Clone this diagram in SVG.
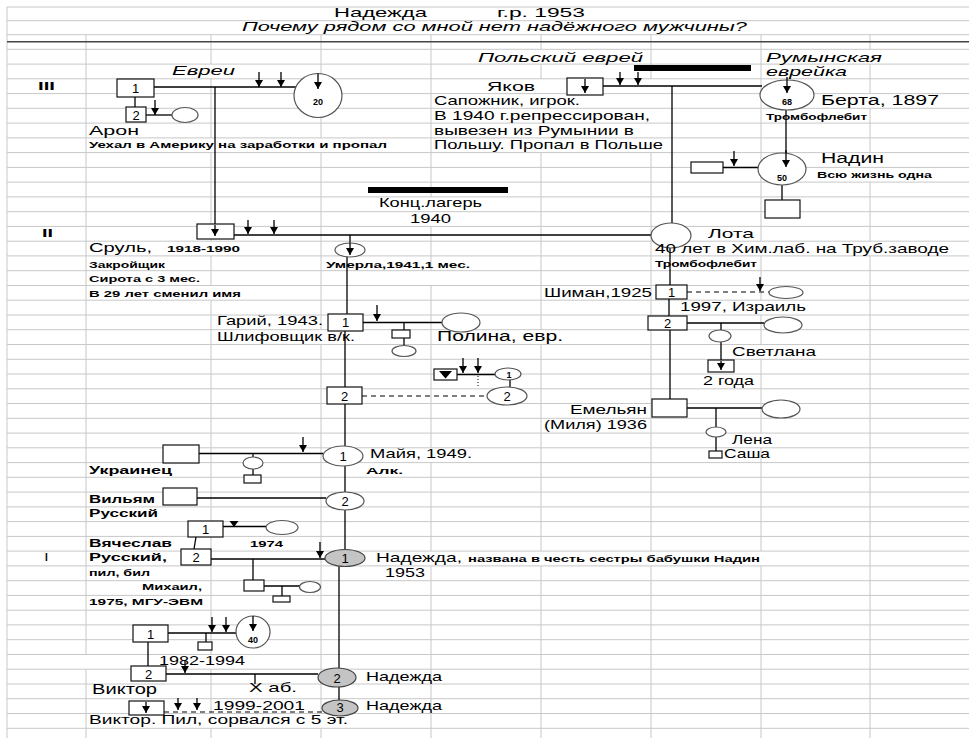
<svg xmlns="http://www.w3.org/2000/svg" width="969" height="738" viewBox="0 0 969 738">
<defs>
<marker id="ah" markerUnits="userSpaceOnUse" markerWidth="8" markerHeight="8" refX="7" refY="4" orient="auto" viewBox="0 0 8 8"><path d="M0,0 L7,4 L0,8 z" fill="#000"/></marker>
</defs>
<style>
.g{stroke:#c8c8c8;stroke-width:1;fill:none}
.ln{stroke:#000;stroke-width:1.3;fill:none}
.ds{stroke:#000;stroke-width:1.2;fill:none;stroke-dasharray:5,4}
.ar{stroke:#000;stroke-width:1.3;fill:none;marker-end:url(#ah)}
.sq{fill:#fff;stroke:#111;stroke-width:1.2}
.ci{fill:#fff;stroke:#555;stroke-width:1.2}
.gr{fill:#c4c4c4;stroke:#444;stroke-width:1.2}
.bar{fill:#000}
text{font-family:"Liberation Sans",Arial,sans-serif;fill:#000}
.t{font-size:13px}
.b{font-size:14px}
.s{font-size:9.5px;font-weight:bold}
.s2{font-size:10px;font-weight:bold}
.it{font-size:13px;font-style:italic}
.n{font-size:9px;font-weight:bold;text-anchor:middle}
.q{font-size:13px;text-anchor:middle}
.gen{font-size:10px;font-weight:bold}
</style>
<rect x="0" y="0" width="969" height="738" fill="#fff"/>
<g id="grid">
<path class="g" d="M7,7H969M7,20.7H969M7,34.7H969M7,49.3H969M7,64.1H969M7,78.8H969M7,93.6H969M7,108.3H969M7,123.1H969M7,137.9H969M7,152.6H969M7,167.4H969M7,182.1H969M7,196.9H969M7,211.7H969M7,226.4H969M7,241.2H969M7,255.9H969M7,270.7H969M7,285.5H969M7,300.2H969M7,315H969M7,329.7H969M7,344.5H969M7,359.3H969M7,374H969M7,388.8H969M7,403.5H969M7,418.3H969M7,433.1H969M7,447.8H969M7,462.6H969M7,477.3H969M7,492.1H969M7,506.9H969M7,521.6H969M7,536.4H969M7,551.1H969M7,565.9H969M7,580.7H969M7,595.4H969M7,610.2H969M7,624.9H969M7,639.7H969M7,654.5H969M7,669.2H969M7,684H969M7,698.7H969M7,713.5H969M7,728.3H969"/>
<path class="g" d="M7,7V738M86,34.7V654.5M86,669.2V738M211,34.7V64.1M211,78.8V137.9M211,152.6V241.2M211,255.9V285.5M211,300.2V654.5M211,669.2V713.5M211,728.3V738M321,34.7V137.9M321,152.6V329.7M321,344.5V713.5M321,728.3V738M431,34.7V196.9M431,226.4V270.7M431,285.5V447.8M431,462.6V551.1M431,565.9V738M541,34.7V49.3M541,64.1V78.8M541,152.6V329.7M541,344.5V551.1M541,565.9V738M651,34.7V78.8M651,152.6V551.1M651,565.9V738M761,34.7V241.2M761,255.9V300.2M761,315V344.5M761,359.3V433.1M761,447.8V551.1M761,565.9V738M870,34.7V49.3M870,64.1V93.6M870,108.3V152.6M870,182.1V241.2M870,255.9V738"/>
<line x1="7" y1="41.7" x2="969" y2="41.7" stroke="#444" stroke-width="1.5"/>
</g>
<g id="titles">
<text class="t" x="334" y="17" textLength="93" lengthAdjust="spacingAndGlyphs">Надежда</text>
<text class="t" x="497" y="17" textLength="88" lengthAdjust="spacingAndGlyphs">г.р. 1953</text>
<text class="it" x="242" y="31" textLength="505" lengthAdjust="spacingAndGlyphs">Почему рядом со мной нет надёжного мужчины?</text>
<text class="gen" x="38" y="90" textLength="17" lengthAdjust="spacingAndGlyphs">III</text>
<text class="gen" x="42" y="237" textLength="11" lengthAdjust="spacingAndGlyphs">II</text>
<text class="gen" x="45" y="561">I</text>
<text class="it" x="172" y="75" textLength="63" lengthAdjust="spacingAndGlyphs">Евреи</text>
<text class="it" x="478" y="62" textLength="165" lengthAdjust="spacingAndGlyphs">Польский еврей</text>
<text class="it" x="766" y="62" textLength="116" lengthAdjust="spacingAndGlyphs">Румынская</text>
<text class="it" x="766" y="76" textLength="81" lengthAdjust="spacingAndGlyphs">еврейка</text>
<rect class="bar" x="634" y="65" width="117" height="6"/>
<rect class="bar" x="368" y="187" width="140" height="6"/>
<text class="t" x="379" y="207" textLength="103" lengthAdjust="spacingAndGlyphs">Конц.лагерь</text>
<text class="t" x="410" y="223" textLength="41" lengthAdjust="spacingAndGlyphs">1940</text>
</g>
<g id="connectors">
<line class="ln" x1="154" y1="87" x2="296" y2="87"/>
<line class="ar" x1="215" y1="87" x2="215" y2="236"/>
<line class="ar" x1="259" y1="72" x2="259" y2="87"/>
<line class="ar" x1="281" y1="72" x2="281" y2="87"/>
<line class="ln" x1="135" y1="97" x2="135" y2="107"/>
<line class="ln" x1="146" y1="115" x2="172" y2="115"/>
<line class="ar" x1="155" y1="100" x2="155" y2="115"/>
<line class="ln" x1="603" y1="86" x2="762" y2="86"/>
<line class="ar" x1="620" y1="72" x2="620" y2="85"/>
<line class="ar" x1="638" y1="72" x2="638" y2="85"/>
<line class="ln" x1="672" y1="86" x2="672" y2="223"/>
<line class="ar" x1="786" y1="108" x2="786" y2="167"/>
<line class="ln" x1="723" y1="167.5" x2="758" y2="167.5"/>
<line class="ar" x1="734" y1="151" x2="734" y2="166"/>
<line class="ln" x1="782" y1="185" x2="782" y2="200"/>
<line class="ln" x1="234" y1="235" x2="651" y2="235"/>
<line class="ar" x1="248" y1="220" x2="248" y2="234"/>
<line class="ar" x1="274" y1="220" x2="274" y2="234"/>
<line class="ar" x1="350" y1="235" x2="350" y2="255"/>
<line class="ln" x1="347" y1="257" x2="347" y2="314"/>
<line class="ln" x1="345" y1="331" x2="345" y2="387"/>
<line class="ln" x1="345" y1="404" x2="345" y2="446"/>
<line class="ln" x1="345" y1="466" x2="345" y2="492"/>
<line class="ln" x1="345" y1="510" x2="345" y2="550"/>
<line class="ln" x1="339" y1="566.5" x2="339" y2="668"/>
<line class="ln" x1="339" y1="687" x2="339" y2="700"/>
<line class="ln" x1="363" y1="322.5" x2="442" y2="322.5"/>
<line class="ar" x1="377" y1="305" x2="377" y2="321"/>
<line class="ln" x1="404" y1="322.5" x2="404" y2="330"/>
<line class="ln" x1="404" y1="338" x2="404" y2="345.5"/>
<line class="ds" x1="362" y1="396" x2="487" y2="396"/>
<line class="ln" x1="457" y1="374.5" x2="495" y2="374.5"/>
<line class="ar" x1="463" y1="358" x2="463" y2="373"/>
<line class="ar" x1="478" y1="358" x2="478" y2="373"/>
<line x1="478" y1="376" x2="478" y2="387" stroke="#000" stroke-width="1" stroke-dasharray="1,2"/>
<line class="ln" x1="510" y1="380" x2="510" y2="387"/>
<line class="ln" x1="670" y1="248" x2="670" y2="285"/>
<line class="ds" x1="687" y1="292" x2="769" y2="292"/>
<line class="ar" x1="760" y1="277" x2="760" y2="291"/>
<line class="ln" x1="669" y1="299" x2="669" y2="316"/>
<line class="ln" x1="687" y1="323" x2="764" y2="323"/>
<line class="ln" x1="721" y1="323" x2="721" y2="330"/>
<line class="ar" x1="721" y1="342" x2="721" y2="370"/>
<line class="ln" x1="670" y1="330" x2="670" y2="399"/>
<line class="ln" x1="687" y1="408" x2="762" y2="408"/>
<line class="ln" x1="716" y1="408" x2="716" y2="427"/>
<line class="ln" x1="716" y1="437" x2="716" y2="451"/>
<line class="ln" x1="199" y1="453.5" x2="323" y2="453.5"/>
<line class="ar" x1="303" y1="437" x2="303" y2="452"/>
<line class="ln" x1="253" y1="453.5" x2="253" y2="457"/>
<line class="ln" x1="253" y1="469" x2="253" y2="475"/>
<line class="ln" x1="197" y1="498" x2="326" y2="498"/>
<line class="ln" x1="223" y1="526.5" x2="266" y2="526.5"/>
<line class="ln" x1="196" y1="537" x2="194" y2="549"/>
<line class="ln" x1="211" y1="559" x2="325" y2="559"/>
<line class="ar" x1="320" y1="542" x2="320" y2="558"/>
<line class="ln" x1="253" y1="559" x2="253" y2="580"/>
<line class="ln" x1="264" y1="586" x2="300" y2="586"/>
<line class="ln" x1="282" y1="586" x2="282" y2="596"/>
<line class="ln" x1="168" y1="633" x2="236" y2="633"/>
<line class="ar" x1="212" y1="617" x2="212" y2="632"/>
<line class="ar" x1="226" y1="617" x2="226" y2="632"/>
<line class="ln" x1="206" y1="633" x2="206" y2="642"/>
<line class="ln" x1="148" y1="642" x2="148" y2="666"/>
<line class="ln" x1="166" y1="674" x2="318" y2="674"/>
<line class="ar" x1="185" y1="661" x2="185" y2="673"/>
<line class="ln" x1="255" y1="674" x2="255" y2="684"/>
<line class="ds" x1="164" y1="712" x2="322" y2="712"/>
<line class="ar" x1="178" y1="698" x2="178" y2="710"/>
<line class="ar" x1="197" y1="698" x2="197" y2="710"/>
</g>
<g id="n_evrei_husband"><rect class="sq" x="117" y="79" width="37" height="18"/><text class="q" x="135.5" y="92.5">1</text></g>
<g id="n_evrei_wife"><ellipse class="ci" cx="318" cy="95.5" rx="24" ry="22"/><line class="ar" x1="318" y1="73.5" x2="318" y2="89"/><text class="n" x="318" y="105">20</text></g>
<g id="n_aron"><rect class="sq" x="126" y="107" width="20" height="15"/><text class="q" x="136" y="119.5">2</text>
<text class="t" x="89" y="135" textLength="50" lengthAdjust="spacingAndGlyphs">Арон</text>
<text class="s" x="89" y="148" textLength="298" lengthAdjust="spacingAndGlyphs">Уехал в Америку на заработки и пропал</text></g>
<g id="n_aron_wife"><ellipse class="ci" cx="185" cy="115" rx="13" ry="7.5"/></g>
<g id="n_yakov"><rect class="sq" x="567" y="78" width="36" height="17"/><line class="ar" x1="585" y1="79" x2="585" y2="93"/>
<text class="t" x="487" y="91" textLength="48" lengthAdjust="spacingAndGlyphs">Яков</text>
<text class="t" x="434" y="105" textLength="146" lengthAdjust="spacingAndGlyphs">Сапожник, игрок.</text>
<text class="t" x="434" y="120" textLength="216" lengthAdjust="spacingAndGlyphs">В 1940 г.репрессирован,</text>
<text class="t" x="434" y="135" textLength="200" lengthAdjust="spacingAndGlyphs">вывезен из Румынии в</text>
<text class="t" x="434" y="149" textLength="229" lengthAdjust="spacingAndGlyphs">Польшу. Пропал в Польше</text></g>
<g id="n_berta"><ellipse class="ci" cx="787" cy="95" rx="27" ry="15"/><line class="ar" x1="787" y1="77" x2="787" y2="93"/><text class="n" x="787" y="104.5">68</text>
<text class="b" x="821" y="105" textLength="118" lengthAdjust="spacingAndGlyphs">Берта, 1897</text>
<text class="s" x="766" y="120" textLength="101" lengthAdjust="spacingAndGlyphs">Тромбофлебит</text></g>
<g id="n_nadin"><ellipse class="ci" cx="782" cy="169" rx="24" ry="16"/><line class="ar" x1="786" y1="150" x2="786" y2="167"/><text class="n" x="782" y="181">50</text>
<text class="b" x="821" y="163" textLength="63" lengthAdjust="spacingAndGlyphs">Надин</text>
<text class="s" x="817" y="178" textLength="115" lengthAdjust="spacingAndGlyphs">Всю жизнь одна</text></g>
<g id="n_nadin_partner"><rect class="sq" x="691" y="162" width="32" height="11"/></g>
<g id="n_nadin_child"><rect class="sq" x="765" y="200" width="35" height="18"/></g>
<g id="n_srul"><rect class="sq" x="197" y="224" width="37" height="15"/><line class="ar" x1="215" y1="225" x2="215" y2="236"/>
<text class="t" x="89" y="252" textLength="63" lengthAdjust="spacingAndGlyphs">Сруль,</text><text class="s" x="167" y="252" textLength="73" lengthAdjust="spacingAndGlyphs">1918-1990</text>
<text class="s" x="89" y="268" textLength="76" lengthAdjust="spacingAndGlyphs">Закройщик</text>
<text class="s" x="89" y="282" textLength="111" lengthAdjust="spacingAndGlyphs">Сирота с 3 мес.</text>
<text class="s" x="89" y="297" textLength="152" lengthAdjust="spacingAndGlyphs">В 29 лет сменил имя</text></g>
<g id="n_lota"><ellipse class="ci" cx="671" cy="235.5" rx="20" ry="12.5"/>
<text class="t" x="708" y="238" textLength="46" lengthAdjust="spacingAndGlyphs">Лота</text>
<text class="t" x="655" y="253" textLength="294" lengthAdjust="spacingAndGlyphs">40 лет в Хим.лаб. на Труб.заводе</text>
<text class="s" x="655" y="267" textLength="102" lengthAdjust="spacingAndGlyphs">Тромбофлебит</text></g>
<g id="n_daughter1941"><ellipse class="ci" cx="350" cy="250" rx="15" ry="7"/><line class="ar" x1="350" y1="243" x2="350" y2="255"/>
<text class="s" x="326" y="268" textLength="144" lengthAdjust="spacingAndGlyphs">Умерла,1941,1 мес.</text></g>
<g id="n_gariy1"><rect class="sq" x="328" y="314" width="35" height="17"/><text class="q" x="345.5" y="327">1</text>
<text class="t" x="217" y="325" textLength="106" lengthAdjust="spacingAndGlyphs">Гарий, 1943.</text>
<text class="t" x="217" y="341" textLength="138" lengthAdjust="spacingAndGlyphs">Шлифовщик в/к.</text></g>
<g id="n_polina"><ellipse class="ci" cx="461" cy="322.5" rx="19" ry="9.5"/>
<text class="b" x="437" y="341" textLength="126" lengthAdjust="spacingAndGlyphs">Полина, евр.</text></g>
<g id="n_gariy_child1"><rect class="sq" x="392" y="330" width="18" height="8"/></g>
<g id="n_gariy_grandchild"><ellipse class="ci" cx="404" cy="351" rx="12" ry="5.5"/></g>
<g id="n_gariy2"><rect class="sq" x="327" y="387" width="35" height="17"/><text class="q" x="344.5" y="400.5">2</text></g>
<g id="n_wife2"><ellipse class="ci" cx="507" cy="396" rx="20" ry="9"/><text class="q" x="507" y="401">2</text></g>
<g id="n_wife2_prev"><rect class="sq" x="434" y="369" width="23" height="11"/><polygon points="439,371 452,371 445.5,378.5" fill="#000"/></g>
<g id="n_wife2_first"><ellipse class="ci" cx="508" cy="374" rx="13" ry="6"/><text class="n" x="509" y="378">1</text></g>
<g id="n_shiman1"><rect class="sq" x="656" y="285" width="31" height="14"/><text class="q" x="671.5" y="296.5">1</text>
<text class="t" x="544" y="297" textLength="108" lengthAdjust="spacingAndGlyphs">Шиман,1925</text></g>
<g id="n_shiman_w1"><ellipse class="ci" cx="786" cy="292.5" rx="17" ry="6"/>
<text class="t" x="680" y="311" textLength="126" lengthAdjust="spacingAndGlyphs">1997, Израиль</text></g>
<g id="n_shiman2"><rect class="sq" x="648" y="316" width="39" height="14"/><text class="q" x="667.5" y="327.5">2</text></g>
<g id="n_shiman_w2"><ellipse class="ci" cx="783" cy="325" rx="19" ry="8"/></g>
<g id="n_svetlana_c"><ellipse class="ci" cx="720" cy="336" rx="11" ry="6"/>
<text class="t" x="732" y="356" textLength="84" lengthAdjust="spacingAndGlyphs">Светлана</text></g>
<g id="n_svetlana_s"><rect class="sq" x="708" y="360" width="26" height="12"/><line class="ar" x1="721" y1="361" x2="721" y2="370"/>
<text class="t" x="703" y="385" textLength="51" lengthAdjust="spacingAndGlyphs">2 года</text></g>
<g id="n_emelyan"><rect class="sq" x="652" y="399" width="35" height="18"/>
<text class="t" x="570" y="414" textLength="77" lengthAdjust="spacingAndGlyphs">Емельян</text>
<text class="t" x="544" y="429" textLength="103" lengthAdjust="spacingAndGlyphs">(Миля) 1936</text></g>
<g id="n_emelyan_w"><ellipse class="ci" cx="781" cy="409" rx="19" ry="9"/></g>
<g id="n_lena"><ellipse class="ci" cx="716" cy="432" rx="10" ry="5"/><text class="t" x="732" y="444" textLength="40" lengthAdjust="spacingAndGlyphs">Лена</text></g>
<g id="n_sasha"><rect class="sq" x="709" y="451" width="13" height="7"/><text class="t" x="724" y="458" textLength="46" lengthAdjust="spacingAndGlyphs">Саша</text></g>
<g id="n_ukrainets"><rect class="sq" x="163" y="445" width="36" height="18"/><text class="s2" x="89" y="474" textLength="83" lengthAdjust="spacingAndGlyphs">Украинец</text></g>
<g id="n_ukr_child_c"><ellipse class="ci" cx="253" cy="463" rx="10" ry="6"/></g>
<g id="n_ukr_child_s"><rect class="sq" x="244" y="475" width="17" height="8"/></g>
<g id="n_maya1"><ellipse class="ci" cx="343" cy="456" rx="20" ry="10"/><text class="q" x="343" y="461">1</text>
<text class="t" x="370" y="458" textLength="102" lengthAdjust="spacingAndGlyphs">Майя, 1949.</text>
<text class="s" x="366" y="474" textLength="37" lengthAdjust="spacingAndGlyphs">Алк.</text></g>
<g id="n_vilyam"><rect class="sq" x="163" y="488" width="34" height="17"/>
<text class="s2" x="89" y="503" textLength="66" lengthAdjust="spacingAndGlyphs">Вильям</text>
<text class="s2" x="89" y="517" textLength="69" lengthAdjust="spacingAndGlyphs">Русский</text></g>
<g id="n_maya2"><ellipse class="ci" cx="345" cy="501" rx="19" ry="9"/><text class="q" x="345" y="506">2</text></g>
<g id="n_vyach1"><rect class="sq" x="188" y="521" width="35" height="16"/><text class="q" x="205.5" y="533.5">1</text><polygon points="229.5,521 238.5,521 234,527" fill="#000"/></g>
<g id="n_vyach_w1"><ellipse class="ci" cx="282" cy="527.5" rx="16" ry="7"/><text class="s" x="250" y="547" textLength="33" lengthAdjust="spacingAndGlyphs">1974</text></g>
<g id="n_vyach2"><rect class="sq" x="181" y="549" width="30" height="16"/><text class="q" x="196" y="562">2</text>
<text class="s2" x="89" y="547" textLength="83" lengthAdjust="spacingAndGlyphs">Вячеслав</text>
<text class="s2" x="89" y="561" textLength="78" lengthAdjust="spacingAndGlyphs">Русский,</text>
<text class="s" x="89" y="576" textLength="61" lengthAdjust="spacingAndGlyphs">пил, бил</text></g>
<g id="n_nadezhda1"><ellipse class="gr" cx="345" cy="558" rx="20" ry="8.5"/><text class="q" x="345" y="563">1</text>
<text class="t" x="376" y="562" textLength="86" lengthAdjust="spacingAndGlyphs">Надежда,</text>
<text class="s" x="468" y="562" textLength="292" lengthAdjust="spacingAndGlyphs">названа в честь сестры бабушки Надин</text>
<text class="t" x="385" y="577" textLength="40" lengthAdjust="spacingAndGlyphs">1953</text></g>
<g id="n_mikhail"><rect class="sq" x="244" y="580" width="20" height="11"/>
<text class="s" x="142" y="590" textLength="60" lengthAdjust="spacingAndGlyphs">Михаил,</text>
<text class="s" x="89" y="605" textLength="114" lengthAdjust="spacingAndGlyphs">1975, МГУ-ЭВМ</text></g>
<g id="n_mikhail_w"><ellipse class="ci" cx="310" cy="587" rx="10.5" ry="5.5"/></g>
<g id="n_mikhail_child"><rect class="sq" x="273" y="596" width="17" height="6"/></g>
<g id="n_viktor1"><rect class="sq" x="133" y="625" width="35" height="17"/><text class="q" x="150.5" y="638.5">1</text></g>
<g id="n_viktor_w"><ellipse class="ci" cx="253" cy="632" rx="17" ry="16"/><line class="ar" x1="253" y1="616" x2="253" y2="631"/><text class="n" x="253" y="643">40</text></g>
<g id="n_viktor_child"><rect class="sq" x="198" y="642" width="14" height="8"/></g>
<g id="n_viktor2"><rect class="sq" x="131" y="666" width="35" height="15"/><text class="q" x="148.5" y="678.5">2</text>
<text class="t" x="159" y="665" textLength="86" lengthAdjust="spacingAndGlyphs">1982-1994</text>
<text class="b" x="92" y="694" textLength="65" lengthAdjust="spacingAndGlyphs">Виктор</text></g>
<g id="n_nadezhda2"><ellipse class="gr" cx="337" cy="677.5" rx="19" ry="9.5"/><text class="q" x="337" y="682.5">2</text>
<text class="t" x="366" y="681" textLength="76" lengthAdjust="spacingAndGlyphs">Надежда</text></g>
<g id="n_abortion"><text class="t" x="249" y="692" textLength="48" lengthAdjust="spacingAndGlyphs">Х аб.</text></g>
<g id="n_viktor3"><rect class="sq" x="129" y="701" width="35" height="14"/><line class="ar" x1="146" y1="702" x2="146" y2="713"/>
<text class="t" x="213" y="710" textLength="92" lengthAdjust="spacingAndGlyphs">1999-2001</text>
<text class="t" x="89" y="724" textLength="259" lengthAdjust="spacingAndGlyphs">Виктор. Пил, сорвался с 5 эт.</text></g>
<g id="n_nadezhda3"><ellipse class="gr" cx="340" cy="708" rx="18" ry="8"/><text class="q" x="340" y="712">3</text>
<text class="t" x="366" y="710" textLength="76" lengthAdjust="spacingAndGlyphs">Надежда</text></g>
</svg>
